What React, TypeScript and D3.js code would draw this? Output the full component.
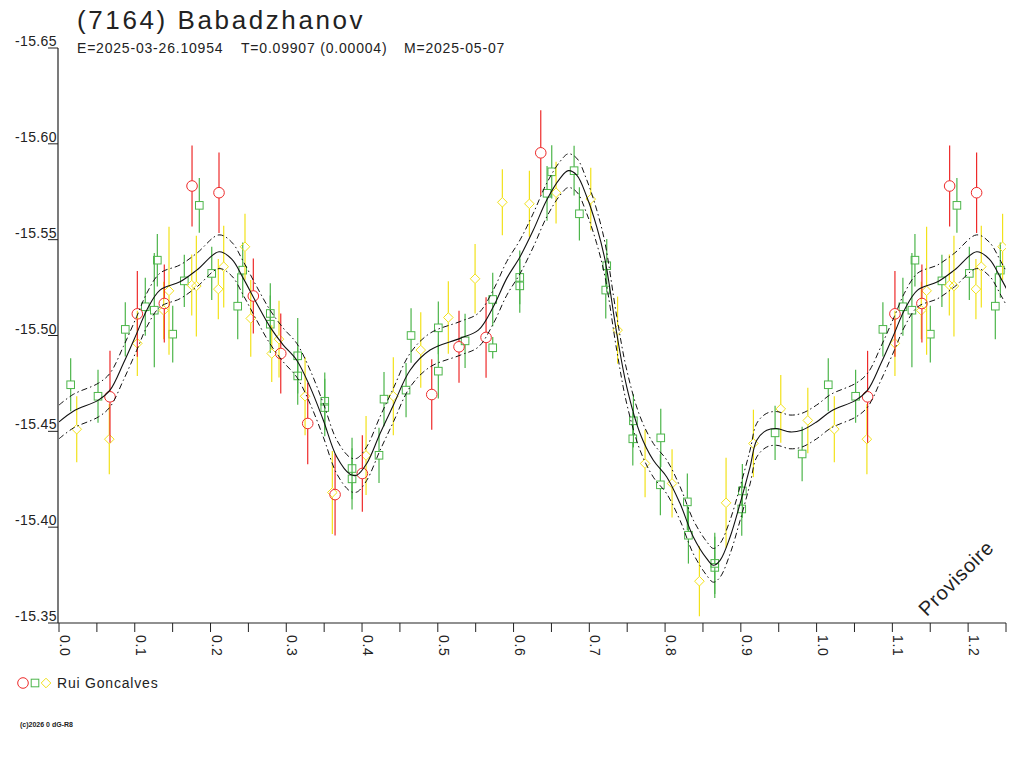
import * as d3 from 'd3'

// phase, magnitude, error (half bar)
const redPoints: Array<[number, number, number]> = [
  [0.0673, -15.468, 0.024],
  [0.1034, -15.5113, 0.0224],
  [0.139, -15.5167, 0.0204],
  [0.1756, -15.578, 0.0211],
  [0.2112, -15.5745, 0.021],
  [0.2565, -15.5206, 0.0196],
  [0.2927, -15.4906, 0.0209],
  [0.3283, -15.4541, 0.0213],
  [0.3644, -15.417, 0.0213],
  [0.4004, -15.428, 0.02],
  [0.492, -15.4692, 0.0184],
  [0.528, -15.4941, 0.0188],
  [0.5637, -15.499, 0.021],
  [0.6359, -15.5953, 0.0222],
]

const greenPoints: Array<[number, number, number]> = [
  [0.0154, -15.4743, 0.0138],
  [0.0515, -15.4683, 0.0138],
  [0.0875, -15.5032, 0.0141],
  [0.1139, -15.515, 0.0151],
  [0.1258, -15.5132, 0.0298],
  [0.1298, -15.5393, 0.0137],
  [0.1501, -15.5007, 0.0148],
  [0.1654, -15.5285, 0.0136],
  [0.1852, -15.5679, 0.0143],
  [0.2016, -15.5324, 0.0139],
  [0.2359, -15.5153, 0.0172],
  [0.2425, -15.5341, 0.0144],
  [0.2789, -15.5115, 0.0158],
  [0.2789, -15.5059, 0.015],
  [0.3151, -15.4894, 0.0197],
  [0.3151, -15.4789, 0.015],
  [0.3508, -15.4657, 0.015],
  [0.3508, -15.4624, 0.015],
  [0.3868, -15.4306, 0.016],
  [0.3868, -15.4252, 0.016],
  [0.4224, -15.4375, 0.0144],
  [0.429, -15.4668, 0.0142],
  [0.4581, -15.4715, 0.0141],
  [0.4647, -15.5, 0.0142],
  [0.5007, -15.504, 0.0138],
  [0.5007, -15.4814, 0.0143],
  [0.536, -15.4972, 0.0142],
  [0.5725, -15.5188, 0.014],
  [0.5725, -15.4936, 0.0056],
  [0.6082, -15.5303, 0.014],
  [0.6082, -15.5259, 0.014],
  [0.6442, -15.5742, 0.0143],
  [0.6504, -15.5854, 0.0139],
  [0.6799, -15.586, 0.013],
  [0.6869, -15.5635, 0.0139],
  [0.723, -15.5364, 0.0139],
  [0.7217, -15.5237, 0.0148],
  [0.7582, -15.4555, 0.0139],
  [0.7574, -15.4461, 0.0139],
  [0.7943, -15.4466, 0.0152],
  [0.7938, -15.4221, 0.0159],
  [0.8294, -15.4132, 0.0148],
  [0.8308, -15.3958, 0.0148],
  [0.8656, -15.3811, 0.016],
  [0.8656, -15.379, 0.016],
  [0.902, -15.4189, 0.014],
  [0.9012, -15.4095, 0.014],
  [0.9452, -15.4492, 0.0141],
  [0.9809, -15.4382, 0.0142],
]

const yellowPoints: Array<[number, number, number]> = [
  [0.0234, -15.4511, 0.0172],
  [0.0664, -15.4459, 0.0183],
  [0.1034, -15.4959, 0.017],
  [0.1382, -15.5131, 0.015],
  [0.1452, -15.5233, 0.0334],
  [0.1752, -15.5263, 0.0159],
  [0.1813, -15.5258, 0.0263],
  [0.2103, -15.5242, 0.0157],
  [0.2174, -15.5359, 0.0213],
  [0.2455, -15.5463, 0.0172],
  [0.2531, -15.5089, 0.02],
  [0.2904, -15.4981, 0.02],
  [0.2808, -15.4906, 0.0148],
  [0.3248, -15.4683, 0.0204],
  [0.3608, -15.4181, 0.0216],
  [0.4053, -15.4374, 0.0206],
  [0.4413, -15.4683, 0.0204],
  [0.4775, -15.4924, 0.0197],
  [0.5139, -15.5094, 0.0189],
  [0.5492, -15.5296, 0.0181],
  [0.5852, -15.5695, 0.0172],
  [0.6209, -15.5687, 0.0172],
  [0.6561, -15.5745, 0.0161],
  [0.7019, -15.5712, 0.0163],
  [0.7373, -15.5028, 0.0175],
  [0.7736, -15.4332, 0.0176],
  [0.8092, -15.4228, 0.0178],
  [0.8453, -15.3718, 0.0183],
  [0.8805, -15.4127, 0.0235],
  [0.9166, -15.4437, 0.0176],
  [0.9527, -15.4617, 0.0177],
  [0.9884, -15.4557, 0.0171],
]

const fitPhase = [
  0, 0.0189, 0.0519, 0.0673, 0.0849, 0.1026, 0.1158, 0.1333, 0.1597, 0.1818, 0.2112, 0.228, 0.2433,
  0.261, 0.2785, 0.2961, 0.3138, 0.3314, 0.3489, 0.3666, 0.3842, 0.393, 0.4062, 0.4238, 0.4413, 0.4634,
  0.4898, 0.5294, 0.5535, 0.5733, 0.591, 0.6086, 0.6261, 0.6438, 0.6614, 0.6723, 0.6834, 0.6966, 0.7098,
  0.7208, 0.7362, 0.7494, 0.767, 0.7845, 0.8022, 0.8198, 0.8373, 0.855, 0.8638, 0.8726, 0.8858, 0.899,
  0.9122, 0.921, 0.9342, 0.9474, 0.9649, 0.9805,
]
const fitMag = [
  -15.4549, -15.4605, -15.4663, -15.4715, -15.4854, -15.5011, -15.5132, -15.5237, -15.528, -15.5341,
  -15.5437, -15.5399, -15.5298, -15.5167, -15.5045, -15.495, -15.4871, -15.4732, -15.4558, -15.4367,
  -15.4276, -15.4271, -15.4332, -15.4489, -15.4636, -15.4819, -15.4924, -15.4985, -15.5028, -15.515,
  -15.5298, -15.5411, -15.555, -15.5707, -15.582, -15.586, -15.5837, -15.5724, -15.5567, -15.5393,
  -15.5011, -15.4732, -15.4489, -15.4349, -15.4262, -15.4123, -15.3949, -15.3836, -15.3801, -15.3827,
  -15.3949, -15.4123, -15.4314, -15.4454, -15.4506, -15.4515, -15.4497, -15.4506,
]
const fitSpread = 0.0088

const yTicks = [-15.65, -15.6, -15.55, -15.5, -15.45, -15.4, -15.35]
const xMinorTicks = d3.range(0, 26).map((i) => i * 0.05)
const xLabels = ['0.0', '0.1', '0.2', '0.3', '0.4', '0.5', '0.6', '0.7', '0.8', '0.9', '1.0', '1.1', '1.2']

const RED = '#ee2a2a'
const GREEN = '#4cb54a'
const YELLOW = '#f2e21a'
const INK = '#222'
const FONT = '"Liberation Sans", Arial, Helvetica, sans-serif'

const width = 1024
const height = 768
const x = d3.scaleLinear().domain([0, 1.25]).range([59, 1006])
const y = d3.scaleLinear().domain([-15.65, -15.35]).range([48, 623])

function unfold(points: Array<[number, number, number]>) {
  const out: Array<[number, number, number]> = []
  points.forEach((p) => {
    out.push(p)
    if (p[0] + 1 <= 1.25) out.push([p[0] + 1, p[1], p[2]])
  })
  return out
}

function fitKnots(offset: number): Array<[number, number]> {
  const base = fitPhase.map((p, i) => [p, fitMag[i] + offset] as [number, number])
  const extra = base.filter((k) => k[0] <= 0.3).map((k) => [k[0] + 1, k[1]] as [number, number])
  return [...base, ...extra]
}

function Marker({ kind, cx, cy, color }: { kind: string; cx: number; cy: number; color: string }) {
  if (kind === 'circle') return <circle cx={cx} cy={cy} r={5.3} fill="none" stroke={color} strokeWidth={1} />
  if (kind === 'square')
    return <rect x={cx - 3.8} y={cy - 3.8} width={7.6} height={7.6} fill="none" stroke={color} strokeWidth={1} />
  return (
    <path
      d={`M${cx},${cy - 4.8}L${cx + 4.8},${cy}L${cx},${cy + 4.8}L${cx - 4.8},${cy}Z`}
      fill="none"
      stroke={color}
      strokeWidth={1}
    />
  )
}

function Series({ points, kind, color }: { points: Array<[number, number, number]>; kind: string; color: string }) {
  const gap = kind === 'circle' ? 5.3 : kind === 'square' ? 3.8 : 4.8
  return (
    <g>
      {unfold(points).map(([phase, mag, err], i) => {
        const cx = x(phase)
        const cy = y(mag)
        const top = y(mag - err)
        const bottom = y(mag + err)
        return (
          <g key={i}>
            <line x1={cx} x2={cx} y1={top} y2={cy - gap} stroke={color} strokeWidth={1.2} />
            <line x1={cx} x2={cx} y1={cy + gap} y2={bottom} stroke={color} strokeWidth={1.2} />
            <Marker kind={kind} cx={cx} cy={cy} color={color} />
          </g>
        )
      })}
    </g>
  )
}

export default function App() {
  const line = d3
    .line<[number, number]>()
    .x((d) => x(d[0]))
    .y((d) => y(d[1]))
    .curve(d3.curveCatmullRom.alpha(0.5))

  return (
    <svg
      width={width}
      height={height}
      viewBox={`0 0 ${width} ${height}`}
      style={{ position: 'absolute', left: 0, top: 0, background: 'white' }}
      fontFamily={FONT}
    >
      <defs>
        <clipPath id="plot">
          <rect x={59} y={40} width={947} height={583} />
        </clipPath>
      </defs>

      <text x={77} y={29} fontSize={26} letterSpacing={2.6} fill={INK}>
        (7164) Babadzhanov
      </text>
      <text x={77} y={53} fontSize={14} letterSpacing={0.8} fill={INK}>
        E=2025-03-26.10954
      </text>
      <text x={241} y={53} fontSize={14} letterSpacing={0.8} fill={INK}>
        T=0.09907 (0.00004)
      </text>
      <text x={404} y={53} fontSize={14} letterSpacing={0.8} fill={INK}>
        M=2025-05-07
      </text>

      {/* axes */}
      <line x1={58} x2={58} y1={48} y2={623} stroke={INK} strokeWidth={1.2} />
      <line x1={58} x2={1006} y1={623} y2={623} stroke={INK} strokeWidth={1.2} />
      {yTicks.map((t) => (
        <g key={t} transform={`translate(0,${y(t)})`}>
          <line x1={48} x2={58} y1={0} y2={0} stroke={INK} />
          <text x={57} y={-2} textAnchor="end" fontSize={14} letterSpacing={0.4} fill={INK}>
            {t.toFixed(2)}
          </text>
        </g>
      ))}
      {xMinorTicks.map((t) => (
        <line key={t} x1={x(t)} x2={x(t)} y1={623} y2={632} stroke={INK} />
      ))}
      {xLabels.map((label, i) => (
        <text
          key={label}
          transform={`translate(${x(i * 0.1) + 1},635) rotate(90)`}
          fontSize={14}
          letterSpacing={0.6}
          fill={INK}
        >
          {label}
        </text>
      ))}

      <g clipPath="url(#plot)">
        <Series points={greenPoints} kind="square" color={GREEN} />
        <Series points={yellowPoints} kind="diamond" color={YELLOW} />
        <Series points={redPoints} kind="circle" color={RED} />

        <path d={line(fitKnots(0)) ?? ''} fill="none" stroke="#111" strokeWidth={1.1} />
        <path
          d={line(fitKnots(-fitSpread)) ?? ''}
          fill="none"
          stroke="#111"
          strokeWidth={1}
          strokeDasharray="6 3 1.5 3"
        />
        <path
          d={line(fitKnots(fitSpread)) ?? ''}
          fill="none"
          stroke="#111"
          strokeWidth={1}
          strokeDasharray="6 3 1.5 3"
        />
      </g>

      <text transform="translate(961,583) rotate(-45)" textAnchor="middle" fontSize={20} letterSpacing={0.8} fill={INK}>
        Provisoire
      </text>

      {/* legend */}
      <Marker kind="circle" cx={23} cy={683} color={RED} />
      <Marker kind="square" cx={35} cy={683} color={GREEN} />
      <Marker kind="diamond" cx={46} cy={683} color={YELLOW} />
      <text x={57} y={688} fontSize={14} letterSpacing={0.8} fill={INK}>
        Rui Goncalves
      </text>

      <text x={20} y={727} fontSize={7} fontWeight="bold" fill={INK}>
        (c)2026 0 dG-R8
      </text>
    </svg>
  )
}
